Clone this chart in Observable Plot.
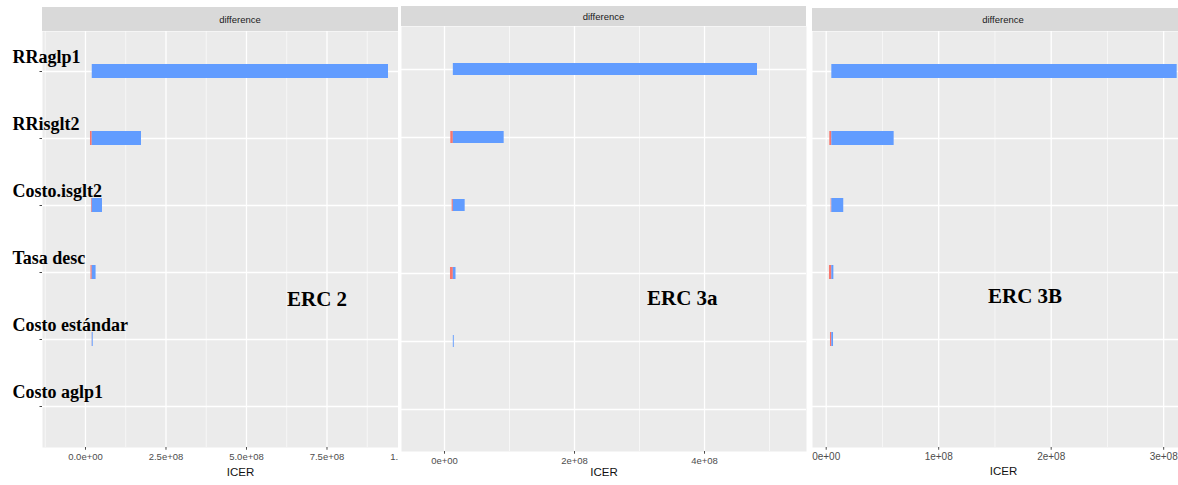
<!DOCTYPE html>
<html><head><meta charset="utf-8">
<script src="https://cdn.jsdelivr.net/npm/d3@7"></script>
<script src="https://cdn.jsdelivr.net/npm/@observablehq/plot@0.6"></script>
<style>
html,body{margin:0;padding:0;background:#fff;overflow:hidden;}
#root{position:relative;width:1178px;height:485px;overflow:hidden;background:#fff;}
.panel{position:absolute;top:0;height:485px;overflow:hidden;}
.panel svg{display:block;max-width:none !important;height:485px !important;}
.strip{position:absolute;background:#D9D9D9;color:#1A1A1A;font:9.5px "Liberation Sans Narrow","Liberation Sans",Arial,sans-serif;display:flex;align-items:center;justify-content:center;}
.erc{position:absolute;font:bold 21px "Liberation Serif","Times New Roman",serif;color:#000;white-space:nowrap;line-height:1;}
</style></head><body><div id="root"></div>
<script>
// ---- data ----
const variables = ["RRaglp1", "RRisglt2", "Costo.isglt2", "Tasa desc", "Costo estándar", "Costo aglp1"];
const panelNames = ["ERC 2", "ERC 3a", "ERC 3B"];
const stripLabel = "difference";
const axisTitle = "ICER";

// ERC 2
const erc2Base = 2.1e7;
const erc2Low  = [2.1e7, 1.55e7, 1.86e7, 1.71e7, 2.05e7, 2.1e7];
const erc2High = [9.41e8, 1.739e8, 5.28e7, 3.29e7, 2.4e7, 2.1e7];
const erc2Ticks = [0, 2.5e8, 5e8, 7.5e8, 1e9];
const erc2Minor = [-1.25e8, 1.25e8, 3.75e8, 6.25e8, 8.75e8];

// ERC 3a
const erc3aBase = 1.36e7;
const erc3aLow  = [1.36e7, 9.7e6, 1.18e7, 9.2e6, 1.36e7, 1.36e7];
const erc3aHigh = [4.815e8, 9.18e7, 3.18e7, 1.77e7, 1.5e7, 1.36e7];
const erc3aTicks = [0, 2e8, 4e8];
const erc3aMinor = [1e8, 3e8, 5e8];

// ERC 3B
const erc3bBase = 5.0e6;
const erc3bLow  = [5.0e6, 3.2e6, 4.4e6, 2.9e6, 3.8e6, 5.0e6];
const erc3bHigh = [3.12e8, 6.04e7, 1.56e7, 6.8e6, 6.5e6, 5.0e6];
const erc3bTicks = [0, 1e8, 2e8, 3e8];
const erc3bMinor = [0.5e8, 1.5e8, 2.5e8];

const lowColor = "#F8766D", highColor = "#619CFF";

// ---- helpers ----
function sci(digits) {
  return v => {
    const s = v.toExponential(digits);
    const [m, e] = s.split("e");
    return m + "e" + e[0] + e.slice(1).padStart(2, "0");
  };
}
function rowsFor(base, low, high) {
  const out = [];
  variables.forEach((v, i) => {
    out.push({variable: v, x1: Math.min(low[i], base), x2: base, side: "low"});
    out.push({variable: v, x1: base, x2: Math.max(high[i], base), side: "high"});
  });
  return out;
}

const panels = [
  {name: panelNames[0], base: erc2Base, low: erc2Low, high: erc2High, ticks: erc2Ticks, minor: erc2Minor, digits: 1,
   wrapLeft: 0, wrapWidth: 398, svgWidth: 440, mL: 42, mR: 2, mT: 31, mB: 38,
   domain: [-1.335e8, 1.0963e9], pInner: 0.79, stripTop: 7, stripH: 24, tickFont: 9.5, titleDy: 28,
   labels: true, erc: {left: 287, top: 289}},
  {name: panelNames[1], base: erc3aBase, low: erc3aLow, high: erc3aHigh, ticks: erc3aTicks, minor: erc3aMinor, digits: 0,
   wrapLeft: 399, wrapWidth: 409, svgWidth: 409, mL: 2, mR: 2, mT: 26, mB: 34,
   domain: [-0.6615e8, 5.569e8], pInner: 0.825, stripTop: 6, stripH: 20, tickFont: 9.5, titleDy: 24,
   labels: false, erc: {left: 647, top: 288}},
  {name: panelNames[2], base: erc3bBase, low: erc3bLow, high: erc3bHigh, ticks: erc3bTicks, minor: erc3bMinor, digits: 0,
   wrapLeft: 808, wrapWidth: 370, svgWidth: 388, mL: 4, mR: 2, mT: 31, mB: 38,
   domain: [-0.1218e8, 3.274e8], pInner: 0.79, stripTop: 8, stripH: 23, tickFont: 10, titleDy: 27,
   labels: false, erc: {left: 988, top: 286}}
];

const root = document.getElementById("root");
const sans = '"Liberation Sans Narrow","Liberation Sans",Arial,sans-serif';

panels.forEach(p => {
  const wrap = document.createElement("div");
  wrap.className = "panel";
  wrap.style.left = p.wrapLeft + "px";
  wrap.style.width = p.wrapWidth + "px";
  root.appendChild(wrap);

  const inDomain = t => t >= p.domain[0] && t <= p.domain[1];
  const marks = [
    Plot.frame({fill: "#EBEBEB", stroke: null}),
    Plot.gridX(p.minor.filter(inDomain), {stroke: "#fff", strokeOpacity: 1, strokeWidth: 0.6}),
    Plot.gridX(p.ticks.filter(inDomain), {stroke: "#fff", strokeOpacity: 1, strokeWidth: 1.3}),
    Plot.gridY({stroke: "#fff", strokeOpacity: 1, strokeWidth: 1.3}),
    Plot.barX(rowsFor(p.base, p.low, p.high), {
      x1: "x1", x2: "x2", y: "variable",
      fill: d => d.side === "low" ? lowColor : highColor, clip: "frame"
    }),
    Plot.axisX(p.ticks.filter(inDomain), {
      tickSize: 2.75, tickPadding: 3, tickFormat: sci(p.digits), fontSize: p.tickFont,
      color: "#4D4D4D", label: null
    }),
    Plot.text([axisTitle], {
      frameAnchor: "bottom", dy: p.titleDy, fontSize: 11.5, fill: "#111", text: d => d
    })
  ];
  if (p.labels) {
    marks.push(Plot.axisY({tickSize: 2.5, tickFormat: () => "", color: "#444", label: null}));
    marks.push(Plot.text(variables, {
      y: d => d, text: d => d, frameAnchor: "left", textAnchor: "start", lineAnchor: "bottom",
      dx: -30, dy: -9, fontSize: 18, fontWeight: "bold",
      fontFamily: '"Liberation Serif","Times New Roman",serif', fill: "#000"
    }));
  }
  const pOuter = (6.2 - 6 + p.pInner) / 2;
  const chart = Plot.plot({
    width: p.svgWidth, height: 485,
    marginLeft: p.mL, marginRight: p.mR, marginTop: p.mT, marginBottom: p.mB,
    style: {background: "transparent", fontFamily: sans, overflow: "visible", maxWidth: "none"},
    x: {domain: p.domain, axis: null},
    y: {type: "band", domain: variables, paddingInner: p.pInner, paddingOuter: pOuter, axis: null},
    marks
  });
  chart.style.maxWidth = "none";
  chart.style.width = p.svgWidth + "px";
  chart.style.height = "485px";
  wrap.appendChild(chart);

  const strip = document.createElement("div");
  strip.className = "strip";
  strip.style.left = p.mL + "px";
  strip.style.top = p.stripTop + "px";
  strip.style.height = p.stripH + "px";
  strip.style.width = (p.svgWidth - p.mL - p.mR) + "px";
  strip.textContent = stripLabel;
  wrap.appendChild(strip);

  const erc = document.createElement("div");
  erc.className = "erc";
  erc.style.left = p.erc.left + "px";
  erc.style.top = p.erc.top + "px";
  erc.textContent = p.name;
  root.appendChild(erc);
});
</script>
</body></html>
